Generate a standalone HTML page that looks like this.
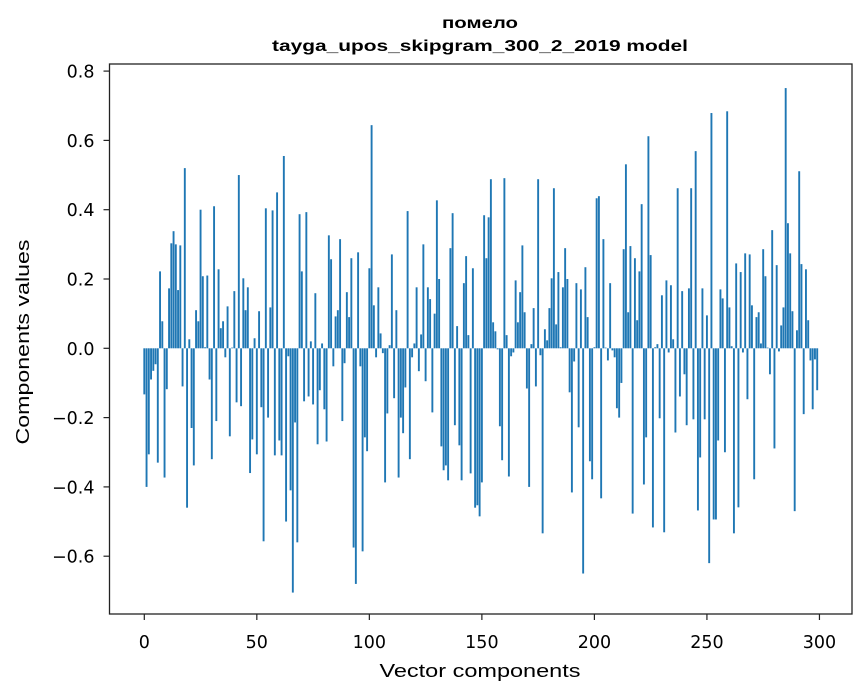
<!DOCTYPE html>
<html><head><meta charset="utf-8"><style>
body{margin:0;background:#fff;}
svg{display:block;font-family:"DejaVu Sans","Liberation Sans",sans-serif;}
</style></head><body>
<svg id="chart" width="867" height="696" xmlns="http://www.w3.org/2000/svg">
<text x="480" y="28" text-anchor="middle" font-size="16" font-weight="bold" font-family="Liberation Sans, sans-serif" textLength="76" lengthAdjust="spacingAndGlyphs">помело</text>
<text x="480" y="51" text-anchor="middle" font-size="16" font-weight="bold" font-family="Liberation Sans, sans-serif" textLength="416" lengthAdjust="spacingAndGlyphs">tayga_upos_skipgram_300_2_2019 model</text>
<g id="bars"></g>
<g id="axes"></g>
<text x="480" y="677" text-anchor="middle" font-size="18" font-family="Liberation Sans, sans-serif" textLength="201" lengthAdjust="spacingAndGlyphs">Vector components</text>
<text transform="translate(29,342) rotate(-90)" text-anchor="middle" font-size="18" font-family="Liberation Sans, sans-serif" textLength="205" lengthAdjust="spacingAndGlyphs">Components values</text>
</svg>
<script>
const values = [
-0.133,-0.40,-0.306,-0.09,-0.065,-0.046,-0.33,0.222,0.078,-0.373,
-0.118,0.173,0.303,0.338,0.30,0.168,0.297,-0.11,0.52,-0.46,
0.026,-0.23,-0.338,0.11,0.078,0.40,0.208,0.003,0.21,-0.09,
-0.32,0.41,-0.21,0.228,0.058,0.078,-0.026,0.121,-0.254,0.002,
0.165,-0.156,0.50,-0.167,0.202,0.11,0.176,-0.36,-0.263,0.029,
-0.306,0.107,-0.17,-0.557,0.404,-0.20,0.118,0.398,-0.309,0.45,
-0.266,-0.309,0.555,-0.50,-0.023,-0.41,-0.705,-0.214,-0.56,0.387,
0.222,-0.153,0.393,-0.139,0.02,-0.162,0.159,-0.277,-0.121,0.014,
-0.176,-0.269,0.326,0.257,-0.052,0.092,0.11,0.315,-0.21,-0.043,
0.162,0.09,0.26,-0.575,-0.68,0.277,-0.052,-0.586,-0.257,-0.297,
0.231,0.644,0.124,-0.026,0.176,0.043,-0.014,-0.387,-0.188,0.009,
0.271,-0.144,0.11,-0.373,-0.2,-0.245,-0.113,0.396,-0.32,-0.026,
0.014,0.176,-0.066,0.04,0.30,-0.095,0.176,0.142,-0.185,0.10,
0.427,0.20,-0.283,-0.352,-0.338,-0.381,0.289,0.39,-0.222,0.064,
-0.28,-0.381,0.188,0.266,0.038,-0.361,0.231,-0.46,-0.453,-0.485,
-0.387,0.384,0.26,0.378,0.488,0.075,0.049,-0.003,-0.225,-0.323,
0.491,0.038,-0.37,-0.023,-0.012,0.196,0.075,0.162,0.297,0.104,
-0.116,-0.40,0.012,0.116,-0.11,0.488,-0.02,-0.534,0.055,0.023,
0.116,0.202,0.462,0.069,0.22,0.003,0.176,0.289,0.20,-0.127,
-0.416,-0.038,0.188,-0.228,0.17,-0.65,0.234,0.09,-0.326,-0.378,
0.003,0.433,0.439,-0.433,0.315,0.002,-0.035,0.188,-0.006,-0.026,
-0.173,-0.2,-0.1,0.286,0.531,0.104,0.295,-0.477,0.26,0.081,
0.222,0.416,-0.393,-0.257,0.612,0.269,-0.517,0.003,0.012,-0.202,
0.153,-0.531,0.196,-0.012,0.182,0.026,-0.243,0.462,-0.139,0.165,
-0.075,-0.222,0.173,0.462,-0.205,0.569,-0.468,-0.315,0.173,-0.205,
0.095,-0.62,0.679,-0.494,-0.494,-0.266,0.17,0.144,-0.30,0.684,
0.118,0.006,-0.534,0.245,-0.459,0.22,-0.012,0.274,-0.147,0.271,
0.124,-0.378,0.09,0.104,0.014,0.286,0.208,0.002,-0.075,0.341,
-0.289,0.24,-0.009,0.066,0.118,0.751,0.361,0.274,0.107,-0.47,
0.052,0.511,0.243,-0.19,0.228,0.081,-0.035,-0.176,-0.032,-0.121
];
const xTicks = [0,50,100,150,200,250,300];
const yTicks = [-0.6,-0.4,-0.2,0.0,0.2,0.4,0.6,0.8];
const yTickLabels = ["\u22120.6","\u22120.4","\u22120.2","0.0","0.2","0.4","0.6","0.8"];

const L=109.5,R=852,T=64,B=614;
const xs = i => 144.3 + (i)*2.2505;
const ys = v => 348.3 - v*346.5;
const NS="http://www.w3.org/2000/svg";
const bars=document.getElementById('bars');
values.forEach((v,i)=>{
  const r=document.createElementNS(NS,'rect');
  const y0=ys(0),y1=ys(v);
  r.setAttribute('x',(xs(i)-0.95).toFixed(2));
  r.setAttribute('width','1.9');
  r.setAttribute('y',Math.min(y0,y1).toFixed(2));
  r.setAttribute('height',Math.max(Math.abs(y1-y0),0.3).toFixed(2));
  r.setAttribute('fill','#1f77b4');
  
  
  bars.appendChild(r);
});
const ax=document.getElementById('axes');
const frame=document.createElementNS(NS,'rect');
frame.setAttribute('x',L);frame.setAttribute('y',T);
frame.setAttribute('width',R-L);frame.setAttribute('height',B-T);
frame.setAttribute('fill','none');frame.setAttribute('stroke','#222');frame.setAttribute('stroke-width','1.3');


ax.appendChild(frame);
xTicks.forEach(t=>{
  const x=xs(t);
  const l=document.createElementNS(NS,'line');
  l.setAttribute('x1',x);l.setAttribute('x2',x);l.setAttribute('y1',B);l.setAttribute('y2',B+6);
  l.setAttribute('stroke','#222');l.setAttribute('stroke-width','1.2');
  
  
  ax.appendChild(l);
  const tx=document.createElementNS(NS,'text');
  tx.setAttribute('x',x);tx.setAttribute('y',B+34);tx.setAttribute('text-anchor','middle');tx.setAttribute('font-size','17.5');
  tx.textContent=String(t);
  
  
  ax.appendChild(tx);
});
yTicks.forEach((t,k)=>{
  const y=ys(t);
  const l=document.createElementNS(NS,'line');
  l.setAttribute('x1',L-6);l.setAttribute('x2',L);l.setAttribute('y1',y);l.setAttribute('y2',y);
  l.setAttribute('stroke','#222');l.setAttribute('stroke-width','1.2');
  
  
  ax.appendChild(l);
  const tx=document.createElementNS(NS,'text');
  tx.setAttribute('x',L-15);tx.setAttribute('y',y+6.5);tx.setAttribute('text-anchor','end');tx.setAttribute('font-size','17.5');
  tx.textContent=yTickLabels[k];
  
  
  ax.appendChild(tx);
});
</script>
</body></html>
